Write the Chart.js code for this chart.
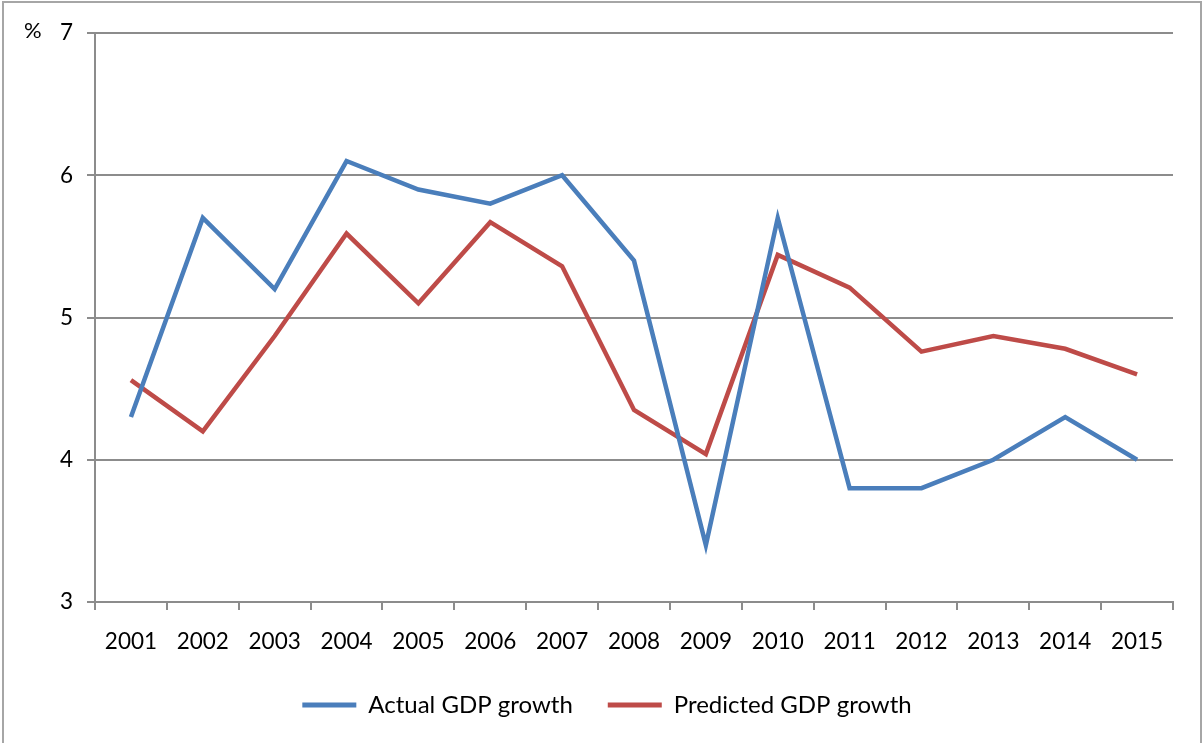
<!DOCTYPE html>
<html>
<head>
<meta charset="utf-8">
<script src="https://cdn.jsdelivr.net/npm/chart.js@4"></script>
<style>
  html, body { margin: 0; padding: 0; background: #fff; }
  #wrap { position: relative; width: 1204px; height: 743px; }
</style>
</head>
<body>
<div id="wrap"><canvas id="chart" width="1204" height="743"></canvas></div>
<script>
// chart data
const years = ['2001', '2002', '2003', '2004', '2005', '2006', '2007', '2008',
               '2009', '2010', '2011', '2012', '2013', '2014', '2015'];
const actualGrowth = [4.3, 5.7, 5.2, 6.1, 5.9, 5.8, 6.0, 5.4, 3.4, 5.7, 3.8, 3.8, 4.0, 4.3, 4.0];
const predictedGrowth = [4.56, 4.2, 4.87, 5.59, 5.1, 5.67, 5.36, 4.35, 4.04, 5.44, 5.21, 4.76, 4.87, 4.78, 4.6];
const yTicks = [3, 4, 5, 6, 7];

const axisGray = '#8c8c8c';
const fontFamily = 'Lato, "Open Sans", sans-serif';

// draws the outer frame and the "%" unit label
const framePlugin = {
    id: 'frame',
    afterDraw(chart) {
        const ctx = chart.ctx;
        ctx.save();
        ctx.strokeStyle = '#a6a6a6';
        ctx.lineWidth = 2;
        ctx.strokeRect(3, 2, 1198, 760);
        ctx.fillStyle = '#000';
        ctx.font = '22px ' + fontFamily;
        ctx.textBaseline = 'middle';
        ctx.fillText('%', 24, 31);
        ctx.restore();
    }
};

new Chart(document.getElementById('chart'), {
    type: 'line',
    data: {
        labels: years,
        datasets: [
            {
                label: 'Actual GDP growth',
                data: actualGrowth,
                borderColor: '#4a7ebb',
                backgroundColor: '#4a7ebb',
                borderWidth: 4.5,
                pointRadius: 0,
                tension: 0,
            },
            {
                label: 'Predicted GDP growth',
                data: predictedGrowth,
                borderColor: '#be4b48',
                backgroundColor: '#be4b48',
                borderWidth: 4.5,
                pointRadius: 0,
                tension: 0,
            },
        ],
    },
    options: {
        responsive: false,
        animation: false,
        layout: { padding: { left: 10, right: 0, top: 33, bottom: 16 } },
        plugins: {
            tooltip: { enabled: false },
            legend: {
                position: 'bottom',
                labels: {
                    color: '#000',
                    font: { family: fontFamily, size: 24 },
                    boxWidth: 54,
                    boxHeight: 0,
                    padding: 35,
                    generateLabels(chart) {
                        return chart.data.datasets.map((ds, i) => ({
                            text: ds.label,
                            fillStyle: ds.borderColor,
                            strokeStyle: ds.borderColor,
                            lineWidth: 5,
                            lineCap: 'round',
                            hidden: false,
                            datasetIndex: i,
                        }));
                    },
                },
            },
        },
        scales: {
            x: {
                offset: true,
                grid: {
                    display: true,
                    offset: true,
                    drawOnChartArea: false,
                    color: axisGray,
                    lineWidth: 2,
                    tickLength: 8,
                },
                border: { color: axisGray, width: 2 },
                ticks: {
                    color: '#000',
                    font: { family: fontFamily, size: 22.5 },
                    maxRotation: 0,
                    padding: 18,
                },
                afterFit(scale) { scale.height = 56; },
            },
            y: {
                min: 3,
                max: 7,
                afterBuildTicks(scale) { scale.ticks = yTicks.map(v => ({ value: v })); },
                grid: {
                    color: axisGray,
                    lineWidth: 2,
                    tickLength: 8,
                },
                border: { color: axisGray, width: 2 },
                ticks: {
                    color: '#000',
                    font: { family: fontFamily, size: 22.5 },
                    padding: 14,
                },
                afterFit(scale) { scale.width = 85; },
            },
            // empty right-hand strip, keeps the plot clear of the frame
            yRight: {
                position: 'right',
                min: 3,
                max: 7,
                grid: { display: false },
                border: { display: false },
                ticks: { display: false },
                afterFit(scale) { scale.width = 31; },
            },
        },
    },
    plugins: [framePlugin],
});
</script>
</body>
</html>
